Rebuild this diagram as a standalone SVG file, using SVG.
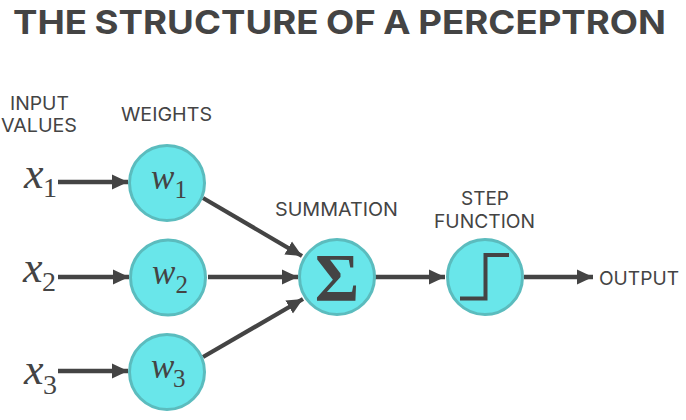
<svg xmlns="http://www.w3.org/2000/svg" width="686" height="420" viewBox="0 0 686 420">
<style>
.t{font-family:"Inter","Liberation Sans",sans-serif;fill:#444444;font-size:19px;text-anchor:middle}
.h{font-family:"Inter","Liberation Sans",sans-serif;fill:#444444;font-size:33px;font-weight:700;word-spacing:-1px}
.m{font-family:"Liberation Serif",serif;fill:#444444;font-style:italic;font-size:44px}
.s{font-family:"Liberation Serif",serif;fill:#444444;font-size:28px}
.wv{font-size:35px}
.ws{font-size:25px}
.n{fill:#69e6ea;stroke:#5bbcbe;stroke-width:3}
.c{stroke:#444444;stroke-width:4.3;fill:none}
</style>
<defs><marker id="a" markerUnits="userSpaceOnUse" markerWidth="17" markerHeight="17" refX="16" refY="8" orient="auto"><path d="M0 0.5L16 8L0 15.5Z" fill="#444444"/></marker></defs>
<rect width="686" height="420" fill="#ffffff"/>
<text class="h" x="13" y="33.5" textLength="653" lengthAdjust="spacingAndGlyphs">THE STRUCTURE OF A PERCEPTRON</text>
<g id="connectors">
<path class="c" marker-end="url(#a)" d="M58 182H128"/>
<path class="c" marker-end="url(#a)" d="M58 277H129"/>
<path class="c" marker-end="url(#a)" d="M58 371H128"/>
<path class="c" marker-end="url(#a)" d="M203 198L302 256"/>
<path class="c" marker-end="url(#a)" d="M208 277H298"/>
<path class="c" marker-end="url(#a)" d="M203 357L303 299"/>
<path class="c" marker-end="url(#a)" d="M375 277H445"/>
<path class="c" marker-end="url(#a)" d="M524 277H593"/>
</g>
<g id="input-values"><text class="t" x="39.5" y="110" textLength="59" lengthAdjust="spacingAndGlyphs">INPUT</text><text class="t" x="39" y="132" textLength="76" lengthAdjust="spacingAndGlyphs">VALUES</text></g>
<g id="weights-label"><text class="t" x="166.5" y="121" textLength="91" lengthAdjust="spacingAndGlyphs">WEIGHTS</text></g>
<g id="x1"><text class="m" x="24" y="188">x</text><text class="s" x="43" y="197">1</text></g>
<g id="x2"><text class="m" x="23" y="282">x</text><text class="s" x="42" y="291">2</text></g>
<g id="x3"><text class="m" x="24" y="384">x</text><text class="s" x="43" y="394">3</text></g>
<g id="w1"><circle class="n" cx="167" cy="183" r="37.5"/><text class="m wv" x="151" y="189">w</text><text class="s ws" x="174.5" y="198">1</text></g>
<g id="w2"><circle class="n" cx="168" cy="277.5" r="37.5"/><text class="m wv" x="152" y="284">w</text><text class="s ws" x="175.5" y="293">2</text></g>
<g id="w3"><circle class="n" cx="167" cy="372" r="37.5"/><text class="m wv" x="151" y="378">w</text><text class="s ws" x="173" y="387">3</text></g>
<g id="summation"><circle class="n" cx="337" cy="277" r="37.5"/><text x="337" y="299.5" text-anchor="middle" style="font-family:'Liberation Serif',serif;font-size:68px;font-weight:700;fill:#444444">Σ</text></g>
<g id="step"><circle class="n" cx="485" cy="277" r="37.5"/><path d="M460 298.5H485.5V255H509" fill="none" stroke="#444444" stroke-width="4"/></g>
<g id="summation-label"><text class="t" x="336.5" y="216" textLength="123" lengthAdjust="spacingAndGlyphs">SUMMATION</text></g>
<g id="step-label"><text class="t" x="485" y="205" textLength="48" lengthAdjust="spacingAndGlyphs">STEP</text><text class="t" x="484.5" y="228" textLength="101" lengthAdjust="spacingAndGlyphs">FUNCTION</text></g>
<g id="output"><text class="t" x="639" y="285" textLength="80" lengthAdjust="spacingAndGlyphs">OUTPUT</text></g>
</svg>
